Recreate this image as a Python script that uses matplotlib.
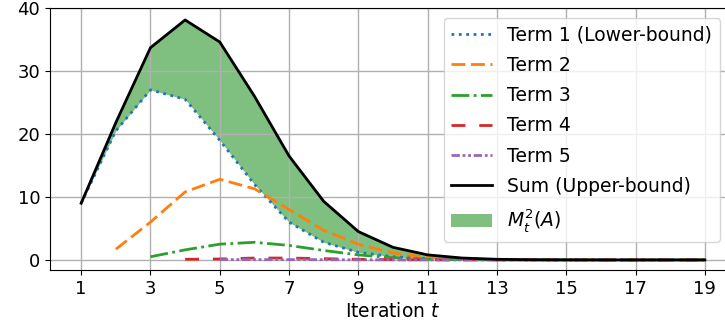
import numpy as np
import matplotlib
matplotlib.use("Agg")
import matplotlib.pyplot as plt

t = np.arange(1, 20)

term1 = [9.0, 20.5, 27.0, 25.5, 19.0, 12.0, 6.0, 2.8, 1.2, 0.5, 0.2, 0.1, 0.03, 0.01, 0, 0, 0, 0, 0]
term2 = [np.nan, 1.7, 6.0, 10.8, 12.8, 11.3, 8.0, 4.7, 2.5, 1.1, 0.4, 0.15, 0.05, 0.02, 0, 0, 0, 0, 0]
term3 = [np.nan, np.nan, 0.5, 1.6, 2.5, 2.8, 2.3, 1.5, 0.8, 0.35, 0.1, 0.04, 0.01, 0, 0, 0, 0, 0, 0]
term4 = [np.nan, np.nan, np.nan, 0.1, 0.15, 0.3, 0.3, 0.2, 0.1, 0.05, 0.02, 0, 0, 0, 0, 0, 0, 0, 0]
term5 = [np.nan, np.nan, np.nan, np.nan, 0.05, 0.05, 0.05, 0.04, 0.02, 0.01, 0, 0, 0, 0, 0, 0, 0, 0, 0]
total = [9.0, 21.8, 33.7, 38.1, 34.6, 26.0, 16.5, 9.3, 4.5, 2.0, 0.8, 0.3, 0.1, 0.03, 0.01, 0, 0, 0, 0]

fig = plt.figure(figsize=(7.25, 3.35), dpi=100)
ax = fig.add_axes([50/725, 65/335, 686/725, 262/335])

ax.plot(t, term1, linestyle=':', color='tab:blue', lw=2, label='Term 1 (Lower-bound)')
ax.plot(t, term2, linestyle=(0, (5, 2)), color='tab:orange', lw=2, label='Term 2')
ax.plot(t, term3, linestyle='-.', color='tab:green', lw=2, label='Term 3')
ax.plot(t, term4, linestyle=(0, (5, 5)), color='tab:red', lw=2, label='Term 4')
ax.plot(t, term5, linestyle=(0, (3, 1, 1, 1, 1, 1)), color='tab:purple', lw=2, label='Term 5')
ax.plot(t, total, color='black', lw=2, label='Sum (Upper-bound)')
ax.fill_between(t, term1, total, color='green', alpha=0.5, lw=0, label='$M_t^2(A)$')

ax.set_xticks(np.arange(1, 20, 2))
ax.set_yticks([0, 10, 20, 30, 40])
ax.set_xlim(0.1, 19.9)
ax.set_ylim(-1.6, 40)
ax.grid(True, color='#b0b0b0', lw=1)
ax.tick_params(labelsize=13)
ax.set_xlabel('Iteration $t$', fontsize=13.5, labelpad=3)
ax.legend(loc='upper right', bbox_to_anchor=(0.990, 0.997), fontsize=13.5,
          labelspacing=0.6, handlelength=2.2)

plt.savefig("out.png", dpi=100)
